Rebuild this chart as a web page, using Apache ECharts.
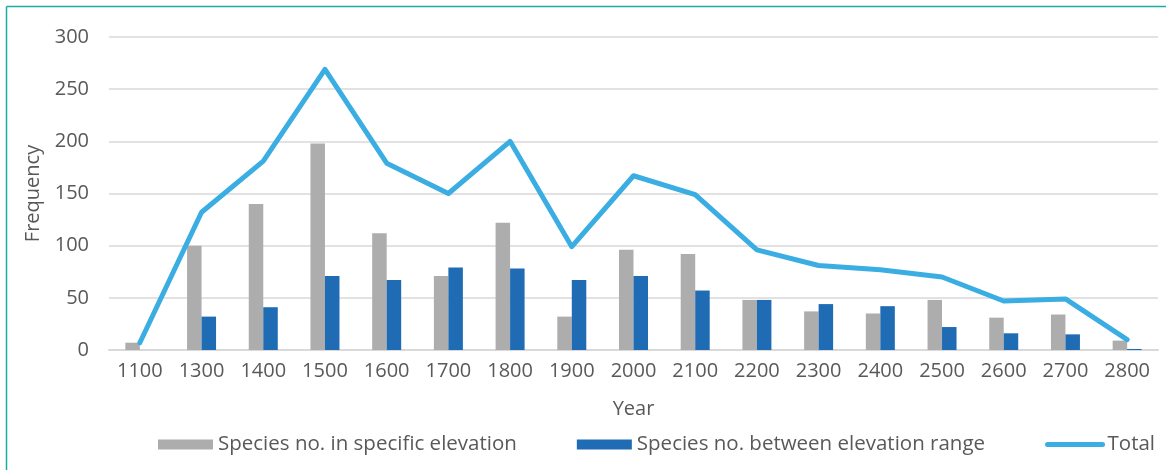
<!DOCTYPE html>
<html>
<head>
<meta charset="utf-8">
<script src="https://cdn.jsdelivr.net/npm/echarts@6/dist/echarts.min.js"></script>
<style>
  html, body { margin: 0; padding: 0; background: #fff; }
  #main { width: 1166px; height: 470px; }
</style>
</head>
<body>
<div id="main"></div>
<script>
var years = ['1100', '1300', '1400', '1500', '1600', '1700', '1800', '1900', '2000',
             '2100', '2200', '2300', '2400', '2500', '2600', '2700', '2800'];
var specific = [7, 100, 140, 198, 112, 71, 122, 32, 96, 92, 48, 37, 35, 48, 31, 34, 9];
var between = [0, 32, 41, 71, 67, 79, 78, 67, 71, 57, 48, 44, 42, 22, 16, 15, 1];
var total = [7, 132, 181, 269, 179, 150, 200, 99, 167, 149, 96, 81, 77, 70, 47, 49, 10];

var textColor = '#595959';
var font = 'Open Sans';

var myChart = echarts.init(document.getElementById('main'));

option = {
    backgroundColor: '#fff',
    textStyle: { fontFamily: font },
    graphic: [
        { type: 'line', shape: { x1: 6.5, y1: 6.5, x2: 1166, y2: 6.5 }, style: { stroke: '#1aaca4', lineWidth: 1.5 } },
        { type: 'line', shape: { x1: 6.5, y1: 6.5, x2: 6.5, y2: 470 }, style: { stroke: '#1aaca4', lineWidth: 1.5 } }
    ],
    grid: { left: 109, right: 8, top: 37, bottom: 120, containLabel: false },
    legend: {
        left: 153,
        top: 429,
        itemWidth: 55,
        itemHeight: 10,
        itemGap: 60,
        textStyle: { color: textColor, fontSize: 20.5, fontFamily: font },
        data: [
            { name: 'Species no. in specific elevation', icon: 'rect' },
            { name: 'Species no. between elevation range', icon: 'rect' },
            {
                name: 'Total',
                itemStyle: { opacity: 0 },
                lineStyle: { color: '#3aaee2', width: 5, cap: 'round' }
            }
        ]
    },
    xAxis: {
        type: 'category',
        data: years,
        name: 'Year',
        nameLocation: 'middle',
        nameGap: 49,
        nameTextStyle: { color: textColor, fontSize: 20, fontFamily: font },
        axisLine: { lineStyle: { color: '#d9d9d9', width: 2 } },
        axisTick: { show: false },
        axisLabel: { color: textColor, fontSize: 20, margin: 11, fontFamily: font }
    },
    yAxis: {
        type: 'value',
        min: 0,
        max: 300,
        interval: 50,
        name: 'Frequency',
        nameLocation: 'middle',
        nameGap: 66,
        nameTextStyle: { color: textColor, fontSize: 20, fontFamily: font },
        axisLine: { show: false },
        axisTick: { show: false },
        axisLabel: { color: textColor, fontSize: 20, margin: 20, fontFamily: font },
        splitLine: { lineStyle: { color: '#d9d9d9', width: 1.5 } }
    },
    series: [
        {
            name: 'Species no. in specific elevation',
            type: 'bar',
            data: specific,
            barWidth: 14.5,
            barGap: '0%',
            itemStyle: { color: '#adadad' }
        },
        {
            name: 'Species no. between elevation range',
            type: 'bar',
            data: between,
            barWidth: 14.5,
            itemStyle: { color: '#1f6bb4' }
        },
        {
            name: 'Total',
            type: 'line',
            data: total,
            symbol: 'none',
            z: 5,
            lineStyle: { color: '#3aaee2', width: 5, cap: 'round', join: 'round' },
            itemStyle: { color: '#3aaee2' }
        }
    ]
};

myChart.setOption(option);
</script>
</body>
</html>
